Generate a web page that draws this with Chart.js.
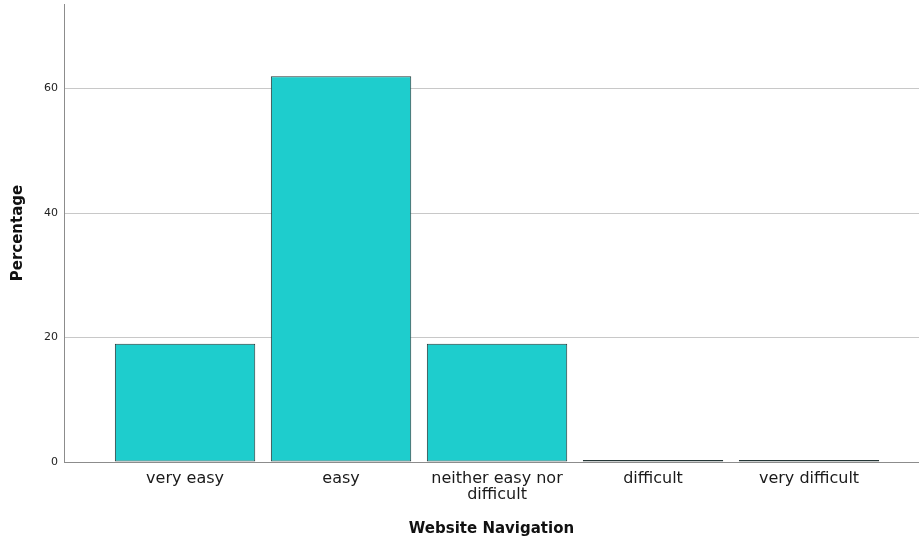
<!DOCTYPE html>
<html>
<head>
<meta charset="utf-8">
<script src="https://cdn.jsdelivr.net/npm/chart.js@4"></script>
<style>
  html, body { margin: 0; padding: 0; background: #fff; }
  .container_chart { position: relative; width: 919px; height: 546px; }
</style>
</head>
<body>
<div class="container_chart"><canvas id="nav_chart" width="919" height="546"></canvas></div>
<script>
const categories = ['very easy', 'easy', ['neither easy nor', 'difficult'], 'difficult', 'very difficult'];
const percentages = [19.0, 62.0, 19.0, 0, 0];
const yTicks = [0, 20, 40, 60];

Chart.defaults.font.family = '"DejaVu Sans", sans-serif';
Chart.defaults.color = '#222';

// bars sit on a linear x scale so the band offsets match the original
const points = percentages.map((v, i) => ({ x: i, y: v }));

new Chart(document.getElementById('nav_chart'), {
	type: 'bar',
	data: {
		datasets: [{
			label: 'Percentage',
			data: points,
			backgroundColor: '#1ecdcd',
			borderColor: '#263636',
			borderWidth: 1,
			borderSkipped: false,
			minBarLength: 2,
			barPercentage: 0.9,
			categoryPercentage: 1
		}]
	},
	options: {
		responsive: false,
		animation: false,
		devicePixelRatio: 1,
		layout: { padding: { top: 4, right: 0, left: 0, bottom: 0 } },
		plugins: {
			legend: { display: false },
			tooltip: { enabled: false }
		},
		scales: {
			x: {
				type: 'linear',
				offset: false,
				min: -0.776,
				max: 4.705,
				afterFit: (scale) => {
					scale.height = 84;
					scale.paddingLeft = 0;
					scale.paddingRight = 0;
				},
				grid: { display: false, drawTicks: false },
				border: { display: true, color: '#8c8c8c', width: 1 },
				ticks: {
					stepSize: 1,
					includeBounds: false,
					autoSkip: false,
					maxRotation: 0,
					padding: 9,
					font: { size: 16, lineHeight: 1.0 },
					color: '#1a1a1a',
					callback: (v) => (Number.isInteger(v) && categories[v] !== undefined) ? categories[v] : ''
				},
				title: {
					display: true,
					text: 'Website Navigation',
					font: { size: 15, weight: 'bold' },
					color: '#111',
					padding: { top: 0, bottom: 8 }
				}
			},
			y: {
				min: 0,
				max: 73.6,
				afterFit: (scale) => {
					scale.width = 64;
					scale.paddingTop = 0;
					scale.paddingBottom = 0;
				},
				afterBuildTicks: (scale) => { scale.ticks = yTicks.map(v => ({ value: v })); },
				grid: {
					color: (ctx) => ctx.tick && ctx.tick.value === 0 ? 'rgba(0,0,0,0)' : '#c8c8c8',
					lineWidth: 1,
					drawTicks: false
				},
				border: { display: true, color: '#8c8c8c', width: 1 },
				ticks: {
					padding: 6,
					font: { size: 11 },
					color: '#222'
				},
				title: {
					display: true,
					text: 'Percentage',
					font: { size: 15, weight: 'bold' },
					color: '#111',
					padding: { top: 9, bottom: 0 }
				}
			}
		}
	}
});
</script>
</body>
</html>
